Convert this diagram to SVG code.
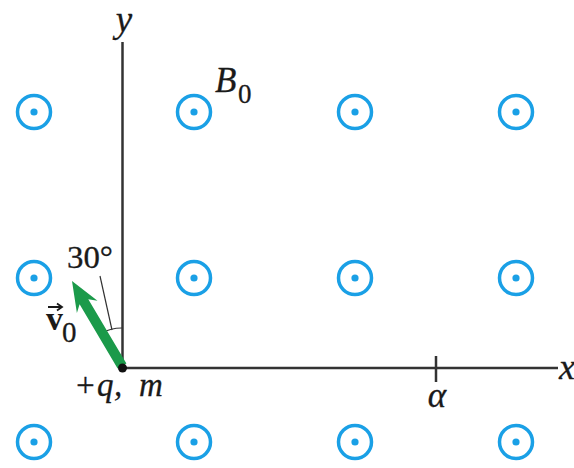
<svg xmlns="http://www.w3.org/2000/svg" width="574" height="468" viewBox="0 0 574 468">
<style>
.f{fill:none;stroke:#1aa0e6;stroke-width:3.5}
.d{fill:#1aa0e6}
.ax{stroke:#333;stroke-width:2.5;fill:none}
.t{font-family:"Liberation Serif","Times New Roman",serif;font-style:italic;fill:#1a1a1a;stroke:#1a1a1a;stroke-width:0.3}
.r{font-family:"Liberation Serif","Times New Roman",serif;fill:#1a1a1a;stroke:#1a1a1a;stroke-width:0.3}
</style>
<defs>
<g id="dotc"><circle class="f" r="16.5"/><circle class="d" r="3.6"/></g>
</defs>
<rect width="574" height="468" fill="#fff"/>
<g id="field">
<use href="#dotc" x="34" y="112"/><use href="#dotc" x="194" y="112"/><use href="#dotc" x="355" y="112"/><use href="#dotc" x="516" y="112"/>
<use href="#dotc" x="34" y="278"/><use href="#dotc" x="194" y="278"/><use href="#dotc" x="355" y="278"/><use href="#dotc" x="516" y="278"/>
<use href="#dotc" x="34" y="442"/><use href="#dotc" x="194" y="442"/><use href="#dotc" x="355" y="442"/><use href="#dotc" x="516" y="442"/>
</g>
<g id="axes">
<line class="ax" x1="122.5" y1="42" x2="122.5" y2="368"/>
<line class="ax" x1="122" y1="368" x2="558" y2="368"/>
<line class="ax" x1="436" y1="356" x2="436" y2="382" stroke-width="2"/>
<text class="t" x="124" y="32" style="font-size:37px" text-anchor="middle">y</text>
<text class="t" x="559" y="379" style="font-size:36px">x</text>
<text class="t" x="437" y="407" style="font-size:35px" text-anchor="middle">α</text>
</g>
<g id="angle">
<path d="M102 333 A40 40 0 0 1 122.5 328" fill="none" stroke="#333" stroke-width="1.2"/>
<line x1="100" y1="276" x2="112" y2="330" stroke="#333" stroke-width="1.2"/>
<text class="r" x="67" y="268" style="font-size:31px" textLength="46" lengthAdjust="spacingAndGlyphs">30°</text>
</g>
<g id="velocity">
<polygon points="126.4,363.4 88.3,299.3 97.5,300.8 72,281 76.9,312.9 79.6,304.2 117.6,368.6" fill="#1b9a4a"/>
<text font-family="'Liberation Serif','Times New Roman',serif" font-weight="bold" font-size="34" fill="#1a1a1a" x="46" y="330">v</text>
<path d="M48 307 H61 M57 303.5 L62 307 L57 310.5" fill="none" stroke="#1a1a1a" stroke-width="1.8"/>
<text class="r" x="62" y="342" style="font-size:29px">0</text>
</g>
<g id="charge">
<circle cx="122.5" cy="368" r="4.5" fill="#111"/>
<text class="t" y="396" style="font-size:33px"><tspan x="74">+</tspan><tspan x="97">q</tspan><tspan x="114">,</tspan><tspan x="139">m</tspan></text>
</g>
<g id="B0">
<text class="t" x="215" y="92" style="font-size:35px">B</text>
<text class="r" x="238" y="103" style="font-size:27px">0</text>
</g>
</svg>
